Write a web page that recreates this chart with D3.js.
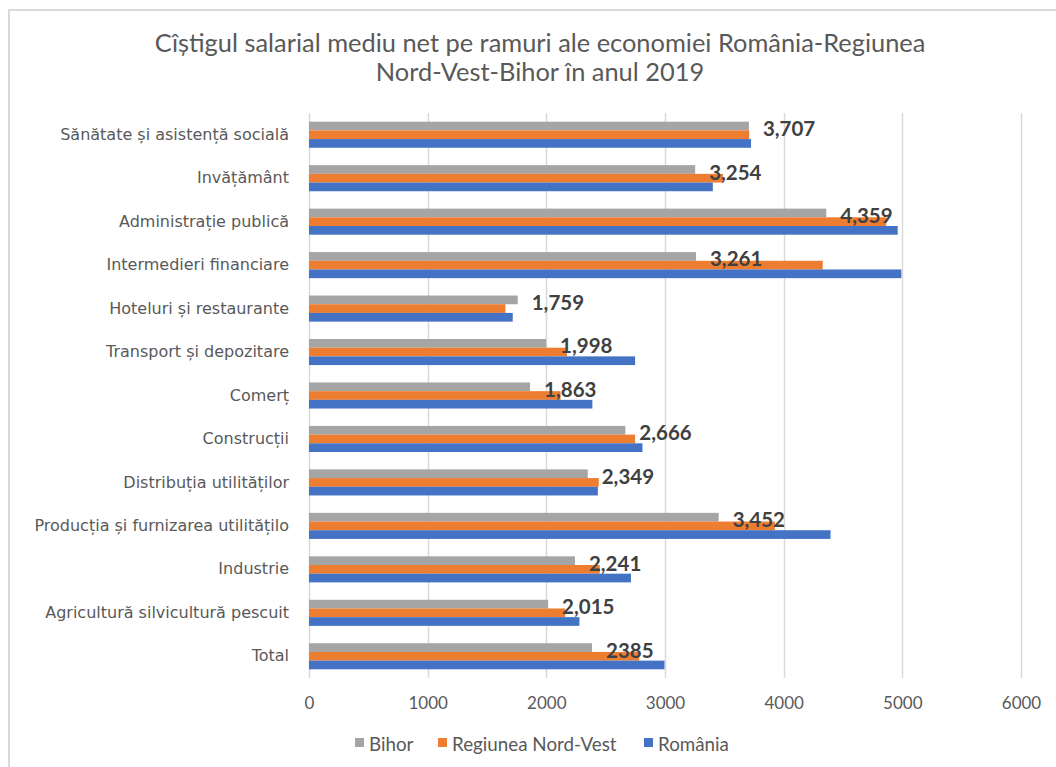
<!DOCTYPE html>
<html>
<head>
<meta charset="utf-8">
<script src="https://cdn.jsdelivr.net/npm/d3@7"></script>
<style>
  body { margin:0; background:#fff; }
</style>
</head>
<body>
<script>
var categories = ["Sănătate și asistență socială", "Invățământ", "Administrație publică",
  "Intermedieri financiare", "Hoteluri și restaurante", "Transport și depozitare", "Comerț",
  "Construcții", "Distribuția utilităților", "Producția și furnizarea utilitățilo",
  "Industrie", "Agricultură silvicultură pescuit", "Total"];

var seriesNames = ["Bihor", "Regiunea Nord-Vest", "România"];

var bihor   = [3707, 3254, 4359, 3261, 1759, 1998, 1863, 2666, 2349, 3452, 2241, 2015, 2385];
var nordVest = [3710, 3488, 4864, 4329, 1655, 2174, 2120, 2748, 2442, 3926, 2450, 2159, 2783];
var romania = [3725, 3403, 4961, 4992, 1717, 2748, 2388, 2810, 2434, 4395, 2713, 2279, 2996];

var bihorLabels = ["3,707", "3,254", "4,359", "3,261", "1,759", "1,998", "1,863", "2,666",
  "2,349", "3,452", "2,241", "2,015", "2385"];

var xTicks = [0, 1000, 2000, 3000, 4000, 5000, 6000];

var colors = ["#A5A5A5", "#ED7D31", "#4472C4"];

var width = 1056, height = 767;
var margin = {top:113, right:35, bottom:89, left:309};

var svg = d3.select('body')
  .append('svg')
  .attr('width', width)
  .attr('height', height);

// chart area frame (only top and left visible)
svg.append('rect')
  .attr('x', 9).attr('y', 10)
  .attr('width', width + 20).attr('height', height + 20)
  .attr('fill', 'none')
  .attr('stroke', '#d9d9d9')
  .attr('stroke-width', 2);

var title = svg.append('text')
  .attr('x', 540)
  .attr('text-anchor', 'middle')
  .attr('font-family', 'Lato')
  .attr('font-size', '25.4px')
  .attr('fill', '#595959');
title.append('tspan').attr('x', 540).attr('y', 52)
  .text('Cîștigul salarial mediu net pe ramuri ale economiei România-Regiunea');
title.append('tspan').attr('x', 540).attr('y', 81)
  .text('Nord-Vest-Bihor în anul 2019');

var xScale = d3.scaleLinear()
  .domain([0, 6000])
  .range([margin.left, width - margin.right]);

var yScale = d3.scaleBand()
  .domain(categories)
  .range([margin.top, height - margin.bottom])
  .paddingInner(0.4)
  .paddingOuter(0.2);

var ySub = d3.scaleBand()
  .domain(seriesNames)
  .range([0, yScale.bandwidth()]);

// gridlines
svg.append('g')
  .selectAll('line')
  .data(xTicks)
  .enter()
  .append('line')
  .attr('x1', function(d){ return Math.round(xScale(d)) + 0.5; })
  .attr('x2', function(d){ return Math.round(xScale(d)) + 0.5; })
  .attr('y1', margin.top)
  .attr('y2', height - margin.bottom)
  .attr('stroke', '#d9d9d9')
  .attr('stroke-width', 1.5);

var xAxis = d3.axisBottom(xScale)
  .tickValues(xTicks)
  .tickFormat(d3.format('d'))
  .tickSize(0)
  .tickPadding(19);

var gx = svg.append('g')
  .attr('transform', 'translate(0,' + (height - margin.bottom) + ')')
  .call(xAxis);
gx.select('.domain').remove();
gx.selectAll('text')
  .attr('font-family', 'Lato')
  .attr('font-size', '17px')
  .attr('fill', '#595959');

var yAxis = d3.axisLeft(yScale)
  .tickSize(0)
  .tickPadding(20);

var gy = svg.append('g')
  .attr('transform', 'translate(' + margin.left + ',0)')
  .call(yAxis);
gy.select('.domain').remove();
gy.selectAll('text')
  .attr('font-family', 'DejaVu Sans')
  .attr('font-size', '16px')
  .attr('fill', '#595959');

var table = categories.map(function(c, i){
  return {cat: c, values: [bihor[i], nordVest[i], romania[i]]};
});

var groups = svg.append('g')
  .selectAll('g')
  .data(table)
  .enter()
  .append('g')
  .attr('transform', function(d){ return 'translate(0,' + yScale(d.cat) + ')'; });

groups.selectAll('rect')
  .data(function(d){
    return d.values.map(function(v, j){ return {name: seriesNames[j], value: v, color: colors[j]}; });
  })
  .enter()
  .append('rect')
  .attr('x', xScale(0))
  .attr('y', function(d){ return ySub(d.name); })
  .attr('width', function(d){ return xScale(d.value) - xScale(0); })
  .attr('height', ySub.bandwidth())
  .attr('fill', function(d){ return d.color; });

// data labels for Bihor
svg.append('g')
  .selectAll('text')
  .data(table)
  .enter()
  .append('text')
  .attr('x', function(d, i){ return xScale(bihor[i]) + 14; })
  .attr('y', function(d){ return yScale(d.cat) + ySub('Bihor') + ySub.bandwidth() / 2 + 2; })
  .attr('dominant-baseline', 'central')
  .attr('font-family', 'Lato')
  .attr('font-weight', 'bold')
  .attr('font-size', '20.5px')
  .attr('fill', '#404040')
  .text(function(d, i){ return bihorLabels[i]; });

// legend
var legendX = [355, 438, 644];
var legend = svg.append('g')
  .selectAll('g')
  .data(seriesNames)
  .enter()
  .append('g')
  .attr('transform', function(d, i){ return 'translate(' + legendX[i] + ',743)'; });

legend.append('rect')
  .attr('x', 0).attr('y', -5)
  .attr('width', 9).attr('height', 9)
  .attr('fill', function(d, i){ return colors[i]; });

legend.append('text')
  .attr('x', 14)
  .attr('y', 0)
  .attr('dominant-baseline', 'central')
  .attr('font-family', 'Lato')
  .attr('font-size', '18.8px')
  .attr('fill', '#595959')
  .text(function(d){ return d; });
</script>
</body>
</html>
